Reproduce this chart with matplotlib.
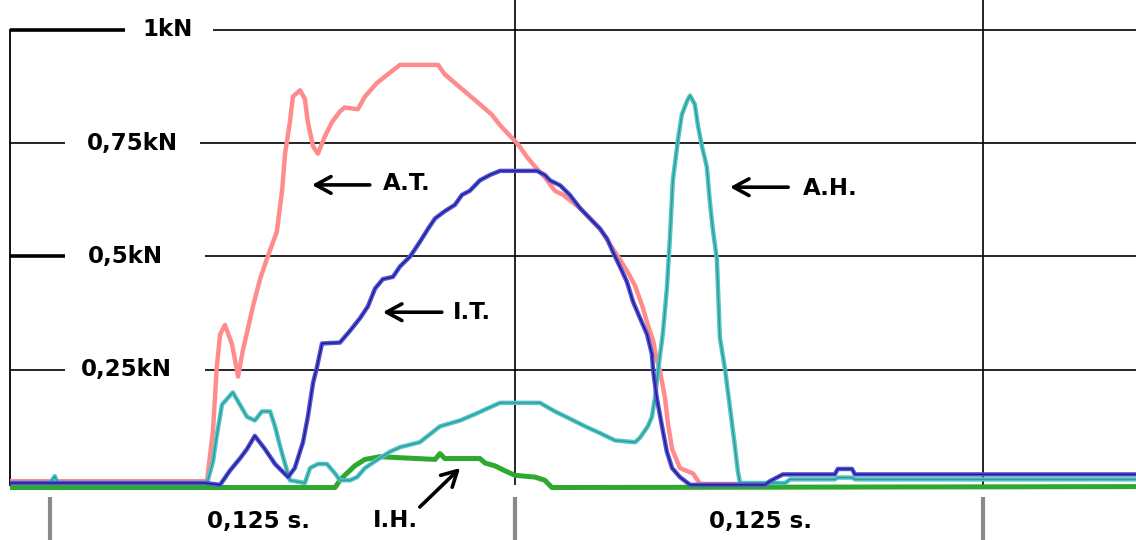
import matplotlib
matplotlib.use('Agg')
import matplotlib.pyplot as plt

# time in ms, force in kN
at_t = [-10.7, 41.5, 42.1, 43.7, 44.7, 45.6, 46.9, 48.8, 50.4, 51.7, 53.1, 54.4, 56.3, 58.1,
        60.8, 62.2, 63.0, 64.3, 65.1, 67.0, 68.3, 69.1, 70.5, 71.8, 73.7, 75.6, 77.7, 79.0,
        82.5, 84.4, 87.6, 91.9, 93.8, 99.1, 104.0, 105.8, 108.5, 112.5, 115.2, 118.4, 120.6,
        123.3, 125.4, 127.8, 130.0, 132.6, 135.3, 137.5, 142.0, 147.4, 150.9, 152.7, 155.4,
        156.8, 158.9, 160.2, 161.6, 162.6, 163.4, 164.8, 165.6, 166.7, 168.8, 172.3, 174.2, 190.0]
at_v = [0.004, 0.004, 0.006, 0.117, 0.256, 0.328, 0.349, 0.306, 0.235, 0.293, 0.343, 0.390, 0.450, 0.494,
        0.555, 0.645, 0.727, 0.797, 0.853, 0.867, 0.848, 0.797, 0.743, 0.727, 0.766, 0.797, 0.820, 0.829,
        0.825, 0.853, 0.883, 0.911, 0.923, 0.923, 0.923, 0.902, 0.883, 0.855, 0.836, 0.813, 0.790,
        0.766, 0.748, 0.720, 0.698, 0.675, 0.645, 0.636, 0.607, 0.561, 0.516, 0.494, 0.457,
        0.435, 0.386, 0.349, 0.315, 0.272, 0.250, 0.188, 0.131, 0.075, 0.033, 0.021, -0.002, -0.002]

it_t = [-10.7, 41.5, 45.6, 48.2, 50.9, 52.8, 54.9, 57.6, 60.3, 63.8, 65.6, 67.8, 69.1, 70.5,
        71.5, 72.9, 77.7, 80.4, 83.1, 85.2, 87.1, 89.2, 91.9, 93.8, 96.5, 99.1, 101.3, 103.2,
        105.8, 108.5, 110.4, 112.5, 115.2, 117.9, 120.6, 130.5, 132.6, 134.0, 136.7, 139.3,
        142.0, 144.7, 147.4, 149.3, 150.9, 152.7, 154.6, 156.2, 158.1, 160.0, 161.3, 161.6,
        162.6, 164.0, 165.3, 166.7, 168.8, 171.5, 191.6, 192.9, 196.4, 210.3, 211.1, 214.9,
        215.7, 291.0]
it_v = [0.0, 0.0, -0.004, 0.027, 0.054, 0.075, 0.104, 0.075, 0.042, 0.013, 0.033, 0.090, 0.146, 0.221,
        0.254, 0.308, 0.310, 0.336, 0.364, 0.390, 0.429, 0.450, 0.455, 0.478, 0.500, 0.532, 0.561, 0.584,
        0.600, 0.614, 0.636, 0.645, 0.668, 0.680, 0.689, 0.689, 0.680, 0.668, 0.657, 0.636,
        0.607, 0.584, 0.561, 0.539, 0.509, 0.478, 0.444, 0.401, 0.364, 0.328, 0.284, 0.250,
        0.188, 0.125, 0.069, 0.033, 0.013, -0.004, -0.004, 0.004, 0.019, 0.019, 0.031, 0.031,
        0.019, 0.019]

ah_t = [-10.7, 0.0, 1.3, 2.1, 42.1, 43.7, 44.7, 46.1, 49.0, 50.9, 52.8, 54.9, 56.8, 59.0,
        60.3, 61.6, 63.0, 64.3, 68.3, 69.7, 71.8, 74.2, 76.4, 77.7, 80.4, 82.3, 84.4, 87.1,
        91.1, 93.8, 99.1, 104.5, 109.9, 113.9, 117.9, 120.6, 131.3, 135.3, 139.3, 143.4,
        147.4, 151.4, 156.8, 158.1, 160.2, 161.3, 162.1, 163.4, 164.2, 165.3, 166.1, 166.9,
        168.3, 169.3, 170.7, 171.5, 172.8, 173.6, 174.7, 176.0, 176.8, 177.6, 178.7, 179.5,
        180.9, 182.2, 183.5, 184.3, 184.9, 197.0, 198.3, 210.3, 211.1, 214.9, 215.7, 291.0]
ah_v = [0.0, 0.0, 0.015, 0.0, 0.0, 0.048, 0.104, 0.173, 0.200, 0.173, 0.146, 0.138, 0.158, 0.158,
        0.125, 0.083, 0.042, 0.006, 0.0, 0.033, 0.042, 0.042, 0.021, 0.006, 0.006, 0.013, 0.033, 0.048,
        0.069, 0.079, 0.090, 0.125, 0.138, 0.152, 0.167, 0.177, 0.177, 0.158, 0.142, 0.125,
        0.110, 0.094, 0.090, 0.100, 0.125, 0.146, 0.188, 0.278, 0.328, 0.429, 0.539, 0.668,
        0.759, 0.813, 0.843, 0.855, 0.836, 0.790, 0.743, 0.698, 0.623, 0.561, 0.494, 0.321,
        0.250, 0.167, 0.083, 0.027, 0.0, 0.0, 0.008, 0.008, 0.012, 0.012, 0.008, 0.008]

ih_t = [-10.7, 76.4, 77.7, 79.0, 81.7, 84.4, 88.4, 103.2, 104.5, 105.8, 115.2, 116.6, 119.2,
        121.9, 124.6, 130.0, 132.6, 134.5, 291.0]
ih_v = [-0.010, -0.010, 0.006, 0.017, 0.038, 0.052, 0.058, 0.052, 0.065, 0.054, 0.054, 0.044, 0.038,
        0.027, 0.017, 0.013, 0.006, -0.010, -0.008]

grid_v = [0.25, 0.5, 0.75, 1.0]
grid_txt = ['0,25kN', '0,5kN', '0,75kN', '1kN']
t_ticks = [0.0, 124.6, 250.0]

fig = plt.figure(figsize=(11.36, 5.4), dpi=100)
ax = fig.add_axes([10 / 1136, 0.0804, 1126 / 1136, 0.9196])
ax.set_xlim(-10.7, 291.0)
ax.set_ylim(-0.03, 1.0662)
for s in ['top', 'right', 'bottom']:
    ax.spines[s].set_visible(False)
ax.spines['left'].set_bounds(-0.005, 1.0)
ax.spines['left'].set_linewidth(1.3)
ax.set_xticks([])
ax.set_yticks([])

# horizontal grid lines, broken where the labels sit
gap = {0.25: (4.0, 41.5, 20.6), 0.5: (4.0, 41.5, 20.1), 0.75: (4.0, 40.2, 22.2), 1.0: (20.1, 43.7, 31.6)}
for v, txt in zip(grid_v, grid_txt):
    g0, g1, tc = gap[v]
    lw_left = 2.6 if v in (0.5, 1.0) else 1.2
    ax.hlines(v, -10.7, g0, color='black', lw=lw_left, zorder=1)
    ax.hlines(v, g1, 291.0, color='black', lw=1.2, zorder=1)
    ax.text(tc, v, txt, ha='center', va='center', fontsize=16.5, fontweight='bold',
            family='DejaVu Sans')

ax.vlines(t_ticks[1:], -0.004, 1.0662, color='black', lw=1.2, zorder=1)
ax.vlines(t_ticks, -0.031, -0.126, color='#8a8a8a', lw=3, clip_on=False)

ax.plot(ih_t, ih_v, color='#2fa82f', lw=3.6, zorder=2)
ax.plot(at_t, at_v, color='#ff8c8c', lw=3.2, zorder=3)
ax.plot(ah_t, ah_v, color='#55c4c4', lw=3.2, zorder=4)
ax.plot(ah_t, ah_v, color='#2a9c9c', lw=1.0, zorder=4)
ax.plot(it_t, it_v, color='#5555cc', lw=3.2, zorder=5)
ax.plot(it_t, it_v, color='#1a1aa0', lw=1.0, zorder=5)

arrow = dict(arrowstyle='->,head_length=0.55,head_width=0.3', lw=2.6, color='black',
             mutation_scale=20, shrinkA=0, shrinkB=0)
ax.annotate('', xy=(70.2, 0.658), xytext=(85.7, 0.658), arrowprops=arrow)
ax.text(89.2, 0.662, 'A.T.', ha='left', va='center', fontsize=16.5, fontweight='bold')
ax.annotate('', xy=(89.2, 0.377), xytext=(105.0, 0.377), arrowprops=arrow)
ax.text(108.0, 0.377, 'I.T.', ha='left', va='center', fontsize=16.5, fontweight='bold')
ax.annotate('', xy=(182.2, 0.653), xytext=(197.8, 0.653), arrowprops=arrow)
ax.text(201.8, 0.651, 'A.H.', ha='left', va='center', fontsize=16.5, fontweight='bold')
ax.annotate('', xy=(109.9, 0.033), xytext=(99.1, -0.053), arrowprops=arrow,
            annotation_clip=False)
ax.text(92.7, -0.082, 'I.H.', ha='center', va='center', fontsize=16.5, fontweight='bold',
        clip_on=False)

ax.text(56.0, -0.086, '0,125 s.', ha='center', va='center', fontsize=16.5, fontweight='bold')
ax.text(190.5, -0.086, '0,125 s.', ha='center', va='center', fontsize=16.5, fontweight='bold')

fig.savefig('out.png', dpi=100)
